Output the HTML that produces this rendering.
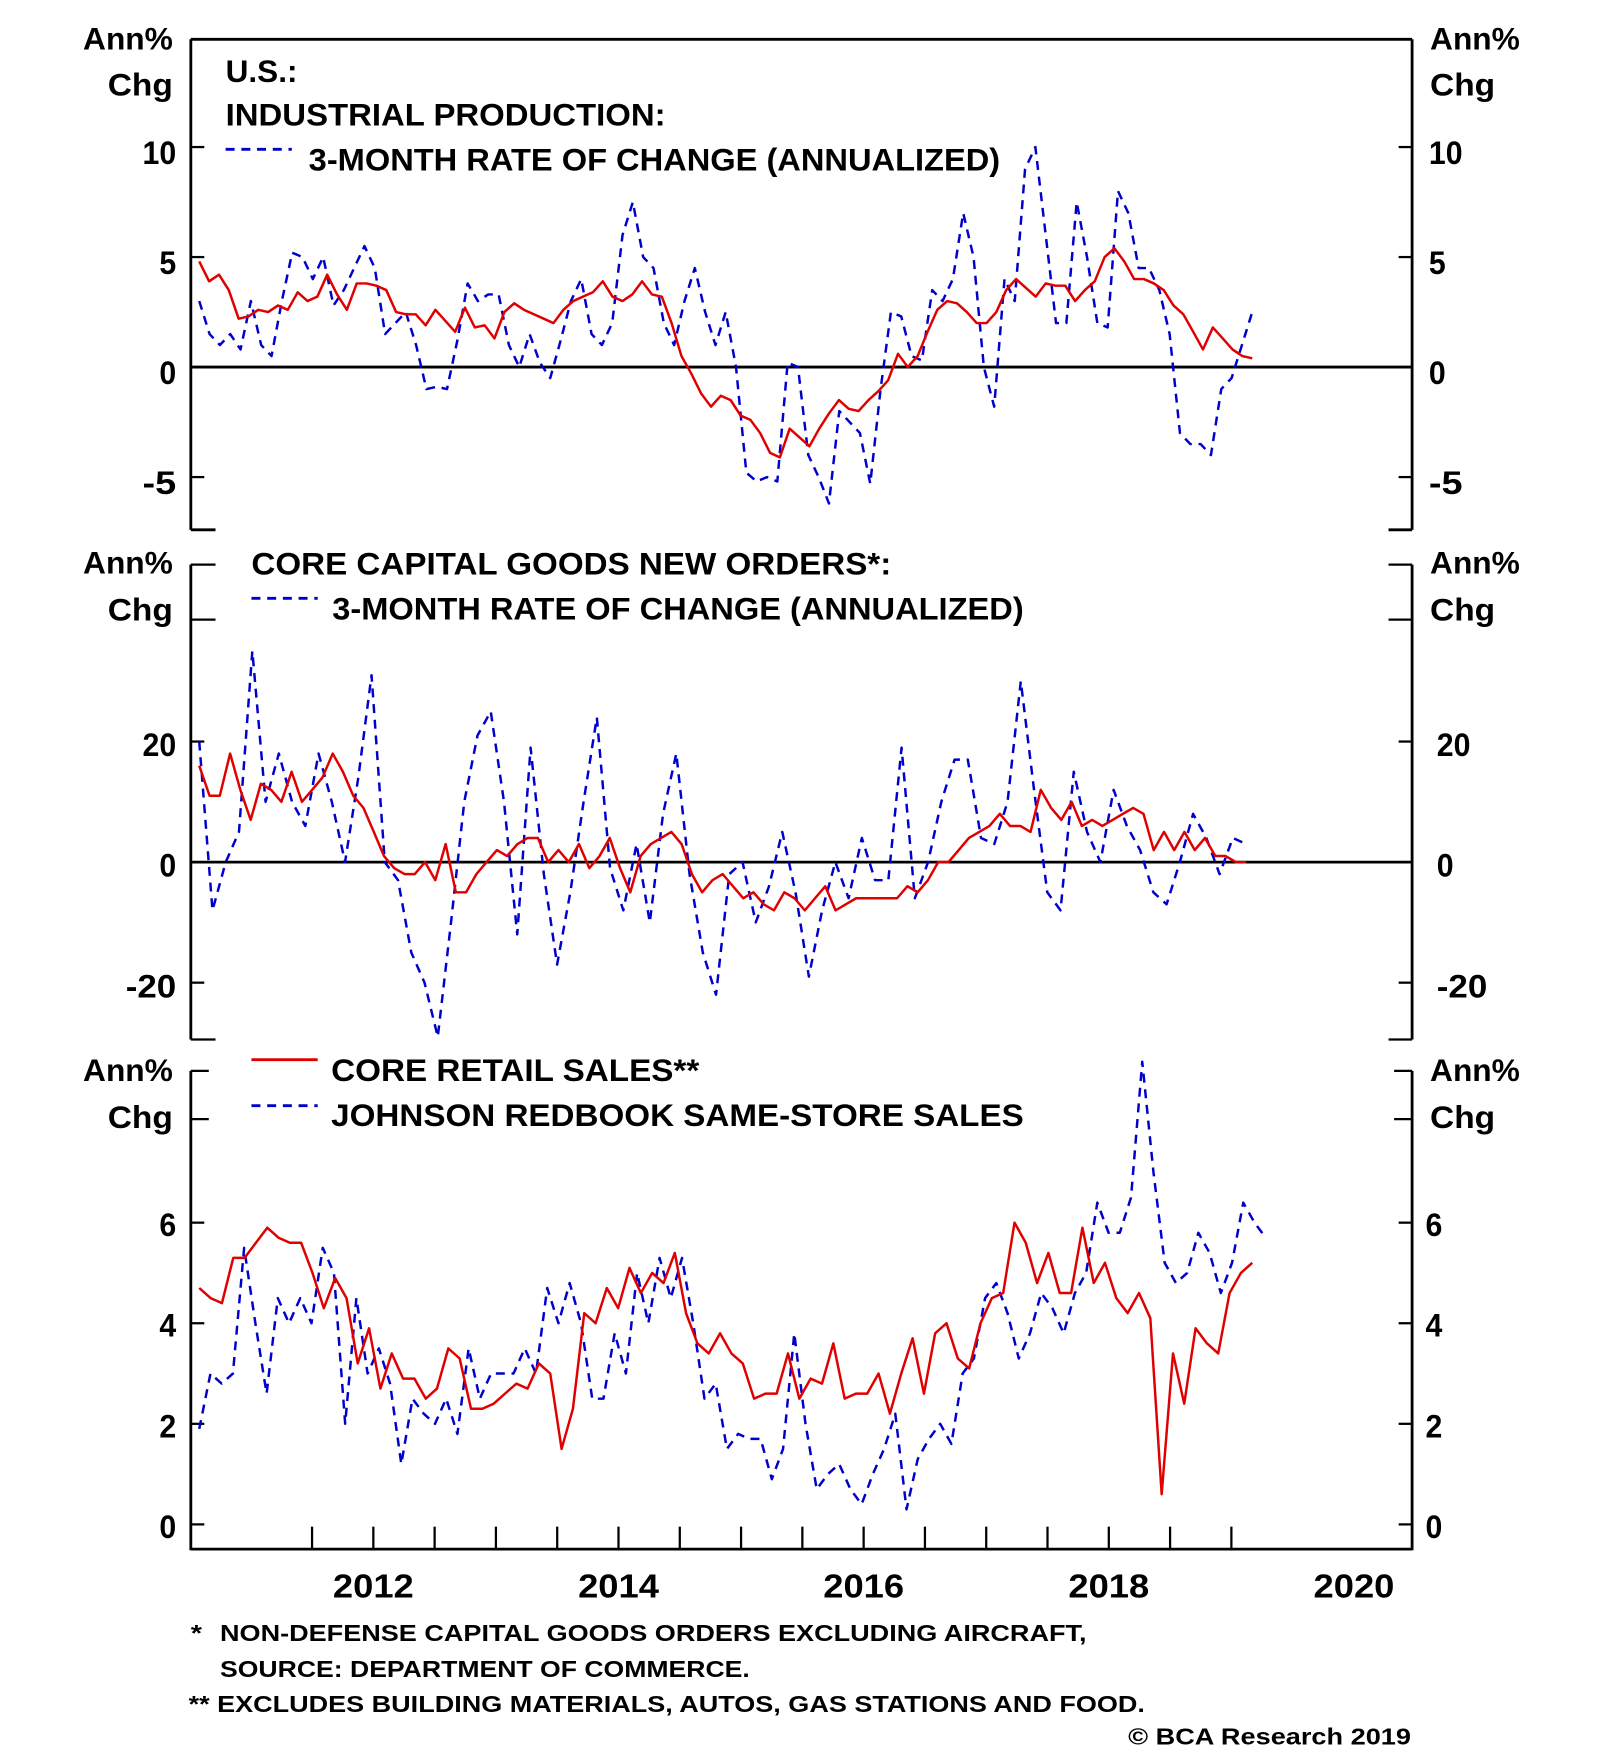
<!DOCTYPE html>
<html><head><meta charset="utf-8"><style>
html,body{margin:0;padding:0;background:#fff;}
svg{display:block;}
text{font-family:"Liberation Sans",sans-serif;font-weight:bold;fill:#000;}
</style></head><body>
<svg id="chart" width="1600" height="1758" viewBox="0 0 1425.4 1566.1" preserveAspectRatio="none" xmlns="http://www.w3.org/2000/svg">
<g id="frame"></g>
<g id="marks"></g>
<g id="labels"></g>
</svg>
<script>
// ---- data ----
const ipRed = [4.8,3.9,4.2,3.5,2.2,2.3,2.6,2.5,2.8,2.6,3.4,3.0,3.2,4.2,3.3,2.6,3.8,3.8,3.7,3.5,2.5,2.4,2.4,1.9,2.6,2.1,1.6,2.7,1.8,1.9,1.3,2.5,2.9,2.6,2.4,2.2,2.0,2.6,3.0,3.2,3.4,3.9,3.2,3.0,3.3,3.9,3.3,3.2,2.0,0.5,-0.3,-1.2,-1.8,-1.3,-1.5,-2.2,-2.4,-3.0,-3.9,-4.1,-2.8,-3.2,-3.6,-2.8,-2.1,-1.5,-1.9,-2.0,-1.5,-1.1,-0.6,0.6,0.0,0.5,1.6,2.6,3.0,2.9,2.5,2.0,2.0,2.5,3.5,4.0,3.6,3.2,3.8,3.7,3.7,3.0,3.5,3.9,5.0,5.4,4.8,4.0,4.0,3.8,3.5,2.8,2.4,1.6,0.8,1.8,1.3,0.8,0.5,0.4];
const ipBlue = [3.0,1.5,1.0,1.5,0.8,3.0,1.0,0.5,3.0,5.2,5.0,4.0,5.0,2.8,3.5,4.5,5.5,4.5,1.5,2.0,2.5,1.0,-1.0,-0.9,-1.0,1.2,3.8,3.0,3.3,3.3,1.0,0.0,1.5,0.2,-0.5,1.2,3.0,4.0,1.5,1.0,2.0,6.0,7.5,5.0,4.5,2.0,1.0,3.0,4.5,2.5,1.0,2.5,0.0,-4.8,-5.2,-5.0,-5.2,0.2,0.0,-4.0,-5.0,-6.2,-2.0,-2.5,-3.0,-5.3,-1.0,2.5,2.3,0.5,0.3,3.5,3.0,4.0,7.0,5.0,0.0,-1.8,4.0,3.0,9.0,10.0,6.0,2.0,2.0,7.5,5.0,2.0,1.8,8.0,7.0,4.5,4.5,3.5,1.5,-3.0,-3.5,-3.5,-4.0,-1.0,-0.5,1.0,2.5];
const capRed = [16,11,11,18,12,7,13,12,10,15,10,12,14,18,15,11,9,5,1,-1,-2,-2,0,-3,3,-5,-5,-2,0,2,1,3,4,4,0,2,0,3,-1,1,4,-1,-5,1,3,4,5,3,-2,-5,-3,-2,-4,-6,-5,-7,-8,-5,-6,-8,-6,-4,-8,-7,-6,-6,-6,-6,-6,-4,-5,-3,0,0,2,4,5,6,8,6,6,5,12,9,7,10,6,7,6,7,8,9,8,2,5,2,5,2,4,1,1,0,0];
const capBlue = [20,-8,0,5,35,10,18,10,6,18,10,0,14,31,0,-3,-15,-20,-29,-10,10,21,25,10,-12,19,-2,-17,-5,10,24,-1,-8,3,-10,8,18,-2,-15,-22,-2,0,-10,-4,5,-5,-19,-8,0,-6,4,-3,-3,19,-6,0,10,17,17,4,3,10,30,12,-5,-8,15,5,0,12,6,2,-5,-7,0,8,4,-2,4,3];
const rsRed = [4.7,4.5,4.4,5.3,5.3,5.6,5.9,5.7,5.6,5.6,5.0,4.3,4.9,4.5,3.2,3.9,2.7,3.4,2.9,2.9,2.5,2.7,3.5,3.3,2.3,2.3,2.4,2.6,2.8,2.7,3.2,3.0,1.5,2.3,4.2,4.0,4.7,4.3,5.1,4.6,5.0,4.8,5.4,4.2,3.6,3.4,3.8,3.4,3.2,2.5,2.6,2.6,3.4,2.5,2.9,2.8,3.6,2.5,2.6,2.6,3.0,2.2,3.0,3.7,2.6,3.8,4.0,3.3,3.1,4.0,4.5,4.6,6.0,5.6,4.8,5.4,4.6,4.6,5.9,4.8,5.2,4.5,4.2,4.6,4.1,0.6,3.4,2.4,3.9,3.6,3.4,4.6,5.0,5.2];
const rsBlue = [1.9,3.0,2.8,3.0,5.5,4.0,2.6,4.5,4.0,4.5,4.0,5.5,5.0,2.0,4.5,3.0,3.5,2.8,1.2,2.5,2.2,2.0,2.5,1.8,3.5,2.5,3.0,3.0,3.0,3.5,3.0,4.7,4.0,4.8,4.0,2.5,2.5,3.8,3.0,5.0,4.0,5.3,4.5,5.3,4.0,2.5,2.8,1.5,1.8,1.7,1.7,0.9,1.5,3.8,2.0,0.7,1.0,1.2,0.7,0.4,1.0,1.5,2.2,0.3,1.3,1.7,2.0,1.6,3.0,3.3,4.5,4.8,4.2,3.3,3.8,4.6,4.3,3.8,4.6,5.0,6.4,5.8,5.8,6.5,9.2,7.0,5.2,4.8,5.0,5.8,5.4,4.6,5.2,6.4,6.0,5.7];
const seriesSpan = {ipRed:[2011.08,2019.67],ipBlue:[2011.08,2019.67],capRed:[2011.08,2019.62],capBlue:[2011.08,2019.62],rsRed:[2011.08,2019.67],rsBlue:[2011.08,2019.78]};
const yearLabels = ["2012","2014","2016","2018","2020"];
const ipTicks = [10,5,0,-5];
const capTicks = [20,0,-20];
const rsTicks = [6,4,2,0];

// ---- axes ----
const L=170,R=1258;
const xS = t => 278 + (t-2012)*109.2;
const y1 = v => 327 - v*19.6;
const y2 = v => 768 - v*5.37;
const y3 = v => 1358 - v*44.8;
const NS="http://www.w3.org/2000/svg";
function mk(tag,attrs,parent){const e=document.createElementNS(NS,tag);for(const k in attrs)e.setAttribute(k,attrs[k]);parent.appendChild(e);return e;}
const frame=document.getElementById('frame'), marks=document.getElementById('marks'), labels=document.getElementById('labels');
function ln(x1,yA,x2,yB,w,name){const e=mk('line',{x1:x1,y1:yA,x2:x2,y2:yB,stroke:'#000','stroke-width':w},frame);

return e;}
function tx(x,y,s,size,anchor,name,len){const e=mk('text',{x:x,y:y,'font-size':size,'text-anchor':anchor||'start'},labels);e.textContent=s;
if(len){e.setAttribute('textLength',len);e.setAttribute('lengthAdjust','spacingAndGlyphs');}

return e;}

// panel 1 frame
ln(L,35,R,35,2.5,'panel1-top-border');
ln(L,35,L,472,2.5,'panel1-left-axis');
ln(R,35,R,472,2.5,'panel1-right-axis');
ln(L,472,192,472,2.5,'panel1-bottom-tick-left');
ln(1237,472,R,472,2.5,'panel1-bottom-tick-right');
ln(L,y1(0),R,y1(0),2.5,'panel1-zero-line');
ipTicks.forEach(v=>{ln(L,y1(v),182,y1(v),2,'panel1-tick');ln(1246,y1(v),R,y1(v),2,'panel1-tick');
tx(157,y1(v)+15,String(v),29,'end','panel1-left-tick-label',String(v).length*15);
tx(1273,y1(v)+15,String(v),29,'start','panel1-right-tick-label',String(v).length*15);});
// panel 2 frame
ln(L,503,L,926,2.5,'panel2-left-axis');ln(R,503,R,926,2.5,'panel2-right-axis');
[503,552,926].forEach(y=>{ln(L,y,192,y,2,'panel2-tick');ln(1237,y,R,y,2,'panel2-tick');});
ln(L,y2(0),R,y2(0),2.5,'panel2-zero-line');
capTicks.forEach(v=>{ln(L,y2(v),182,y2(v),2,'panel2-tick');ln(1246,y2(v),R,y2(v),2,'panel2-tick');
tx(157,y2(v)+13,String(v),29,'end','panel2-left-tick-label',String(v).length*15);
tx(1280,y2(v)+13,String(v),29,'start','panel2-right-tick-label',String(v).length*15);});
// panel 3 frame
ln(L,954,L,1381,2.5,'panel3-left-axis');ln(R,954,R,1381,2.5,'panel3-right-axis');
ln(L,1380,R,1380,2.5,'x-axis-line');
[954,997].forEach(y=>{ln(L,y,186,y,2,'panel3-tick');ln(1242,y,R,y,2,'panel3-tick');});
rsTicks.forEach(v=>{ln(L,y3(v),182,y3(v),2,'panel3-tick');ln(1246,y3(v),R,y3(v),2,'panel3-tick');
tx(157,y3(v)+12,String(v),29,'end','panel3-left-tick-label',15);
tx(1270,y3(v)+12,String(v),29,'start','panel3-right-tick-label',15);});
for(let t=2012;t<=2019.6;t+=1){ln(xS(t),1360,xS(t),1380,2,'x-tick');}
for(let t=2012.5;t<2020;t+=1){ln(xS(t),1360,xS(t),1380,2,'x-tick');}
yearLabels.forEach(s=>{tx(xS(+s+0.5),1423,s,30,'middle','x-tick-label',72);});

// axis titles
[[44,82],[511,550],[963,1002]].forEach((p,i)=>{
 tx(154,p[0],'Ann%',28,'end','left-axis-title',80);tx(154,p[1]+3,'Chg',28,'end','left-axis-title',58);
 tx(1274,p[0],'Ann%',28,'start','right-axis-title',80);tx(1274,p[1]+3,'Chg',28,'start','right-axis-title',58);
});

// legends / titles
tx(201,73,'U.S.:',28,'start','panel1-title',64);
tx(201,112,'INDUSTRIAL PRODUCTION:',28,'start','panel1-subtitle',392);
tx(275,152,'3-MONTH RATE OF CHANGE (ANNUALIZED)',28,'start','panel1-legend-label',616);
tx(224,512,'CORE CAPITAL GOODS NEW ORDERS*:',28,'start','panel2-title',570);
tx(296,552,'3-MONTH RATE OF CHANGE (ANNUALIZED)',28,'start','panel2-legend-label',616);
tx(295,963,'CORE RETAIL SALES**',28,'start','panel3-legend-red-label',328);
tx(295,1003,'JOHNSON REDBOOK SAME-STORE SALES',28,'start','panel3-legend-blue-label',617);
function legLine(x1,x2,y,color,dash,name){const e=mk('line',{x1:x1,y1:y,x2:x2,y2:y,stroke:color,'stroke-width':2.5},marks);if(dash)e.setAttribute('stroke-dasharray',dash);

}
legLine(201,260,133,'#0000cc','8,6','panel1-legend-swatch');
legLine(224,283,533,'#0000cc','8,6','panel2-legend-swatch');
legLine(224,283,944,'#e00000',null,'panel3-legend-red-swatch');
legLine(224,283,985,'#0000cc','8,6','panel3-legend-blue-swatch');

// footnotes
tx(170,1462,'*',21,'start','footnote-star',10);
tx(196,1462,'NON-DEFENSE CAPITAL GOODS ORDERS EXCLUDING AIRCRAFT,',21,'start','footnote-1',772);
tx(196,1494,'SOURCE: DEPARTMENT OF COMMERCE.',21,'start','footnote-2',472);
tx(168,1525,'** EXCLUDES BUILDING MATERIALS, AUTOS, GAS STATIONS AND FOOD.',21,'start','footnote-3',852);
tx(1257,1554,'© BCA Research 2019',21,'end','copyright',252);

// series
function series(vals,span,yF,color,dash,name){
 const n=vals.length, pts=vals.map((v,i)=>xS(span[0]+(span[1]-span[0])*i/(n-1)).toFixed(1)+','+yF(v).toFixed(1));
 const e=mk('polyline',{points:pts.join(' '),fill:'none',stroke:color,'stroke-width':2.2,'stroke-linejoin':'round'},marks);
 if(dash)e.setAttribute('stroke-dasharray',dash);
 
 
}
series(ipBlue,seriesSpan.ipBlue,y1,'#0000cc','8,6','ip-3m-rate-line');
series(ipRed,seriesSpan.ipRed,y1,'#e00000',null,'ip-yoy-line');
series(capBlue,seriesSpan.capBlue,y2,'#0000cc','8,6','capex-3m-rate-line');
series(capRed,seriesSpan.capRed,y2,'#e00000',null,'capex-yoy-line');
series(rsBlue,seriesSpan.rsBlue,y3,'#0000cc','8,6','redbook-line');
series(rsRed,seriesSpan.rsRed,y3,'#e00000',null,'core-retail-sales-line');
</script>
</body></html>
